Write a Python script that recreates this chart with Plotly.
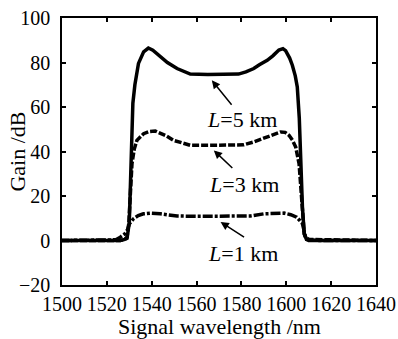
import plotly.graph_objects as go

# Gain spectra for three fibre lengths
wl_5km = [1500, 1520, 1526, 1528, 1529, 1530, 1530.5, 1531, 1531.6, 1532.5, 1534.1, 1536.4,
          1538.5, 1540.5, 1543.8, 1547, 1551.3, 1555, 1557.2, 1565, 1575, 1578.7, 1582,
          1585.5, 1588, 1591.5, 1594, 1596.7, 1598.5, 1599.7, 1601.5, 1602.7, 1604, 1604.9,
          1605.8, 1606.4, 1607.2, 1608, 1609, 1610, 1640]
gain_5km = [0, 0, 0, 0.5, 1, 8, 25, 40, 61.7, 70, 79.6, 84.8,
            86.5, 85.5, 82.6, 80, 77.3, 75.5, 74.8, 74.6, 74.6, 74.8, 75.8,
            77.3, 79, 81, 83, 85.6, 86.2, 85.3, 82, 78.8, 74, 69,
            55, 35, 15, 3, 0.5, 0, 0]

wl_3km = [1500, 1526, 1528, 1529, 1529.8, 1530.5, 1531.2, 1532.2, 1533.4, 1536.4, 1539,
          1541.6, 1544, 1546.5, 1549.8, 1553, 1557.2, 1565, 1575, 1581, 1585.5, 1591.5,
          1595, 1597.5, 1599.5, 1601.2, 1602.8, 1604.2, 1605.7, 1606.4, 1607, 1608, 1609, 1640]
gain_3km = [0, 0, 0.5, 1.5, 8, 20, 34.5, 41, 45, 48, 49,
            49.2, 48.3, 47, 45, 44, 42.8, 42.8, 42.8, 43, 44.3, 46.5,
            48, 48.8, 48.6, 47.3, 45, 42, 34.5, 25, 12, 3, 0.5, 0]

wl_1km = [1500, 1522, 1524, 1526, 1528, 1529.3, 1530, 1531.9, 1534, 1536.3, 1539.4, 1543.8,
          1547, 1551.3, 1560, 1575, 1584, 1590, 1595, 1599, 1602, 1604.6, 1606, 1607.2,
          1608.6, 1610, 1612, 1615, 1640]
gain_1km = [0, 0, 0.3, 1.5, 3, 5, 7.5, 9.8, 11.2, 12, 12.3, 12,
            11.5, 11, 10.9, 10.9, 11, 12, 12.3, 12.3, 11.6, 10.5, 9, 7.6,
            1.5, 0.5, 0.2, 0, 0]

x_ticks = [1500, 1520, 1540, 1560, 1580, 1600, 1620, 1640]
y_ticks = [-20, 0, 20, 40, 60, 80, 100]

FONT = "Liberation Serif"
FS_TICK = 20
FS_TEXT = 22

fig = go.Figure()
fig.add_trace(go.Scatter(x=wl_1km, y=gain_1km, mode="lines",
                         line=dict(color="black", width=3.5, dash="10px,2px,3px,2px")))
fig.add_trace(go.Scatter(x=wl_3km, y=gain_3km, mode="lines",
                         line=dict(color="black", width=3.5, dash="7px,2px")))
fig.add_trace(go.Scatter(x=wl_5km, y=gain_5km, mode="lines",
                         line=dict(color="black", width=3.5)))

# Curve labels with arrows
labels = [
    ("<i>L</i>=5 km", 1580.1, 54.5, 1566.8, 72.0, 21, 26),
    ("<i>L</i>=3 km", 1581.0, 25.2, 1567.7, 40.5, 20, 19),
    ("<i>L</i>=1 km", 1580.5, -5.9, 1570.7, 8.3, 25, 16),
]
for text, tx, ty, ax_x, ax_y, dx, dy in labels:
    fig.add_annotation(x=tx, y=ty, text=text, showarrow=False,
                       xanchor="center", yanchor="middle",
                       font=dict(family=FONT, size=FS_TEXT, color="black"))
    fig.add_annotation(x=ax_x, y=ax_y, text="", showarrow=True, ax=dx, ay=dy,
                       arrowhead=2, arrowsize=1.1, arrowwidth=1.5, arrowcolor="black")

# Axis titles
fig.add_annotation(x=0.503, y=-0.157, xref="paper", yref="paper", text="Signal wavelength /nm",
                   xanchor="center", yanchor="middle",
                   showarrow=False, font=dict(family=FONT, size=FS_TEXT, color="black"))
fig.add_annotation(x=-0.143, y=0.50, xref="paper", yref="paper", text="Gain /dB",
                   textangle=-90, xanchor="center", yanchor="middle", showarrow=False,
                   font=dict(family=FONT, size=FS_TEXT, color="black"))

axis_common = dict(showline=True, linecolor="black", linewidth=1.5, mirror="allticks",
                   ticks="inside", ticklen=4, tickwidth=2, tickcolor="black",
                   showgrid=False, zeroline=False, automargin=False, tickangle=0,
                   tickfont=dict(family=FONT, size=FS_TICK, color="black"))

fig.update_xaxes(range=[1500, 1640], tickvals=x_ticks, ticklabelstandoff=0, **axis_common)
fig.update_yaxes(range=[-20, 100], tickvals=y_ticks, ticklabelstandoff=6,
                 tickformat="d", **axis_common)

fig.update_layout(width=398, height=339, showlegend=False,
                  margin=dict(l=62, r=22, t=18, b=54),
                  plot_bgcolor="white", paper_bgcolor="white")

fig.write_html("out.html")
